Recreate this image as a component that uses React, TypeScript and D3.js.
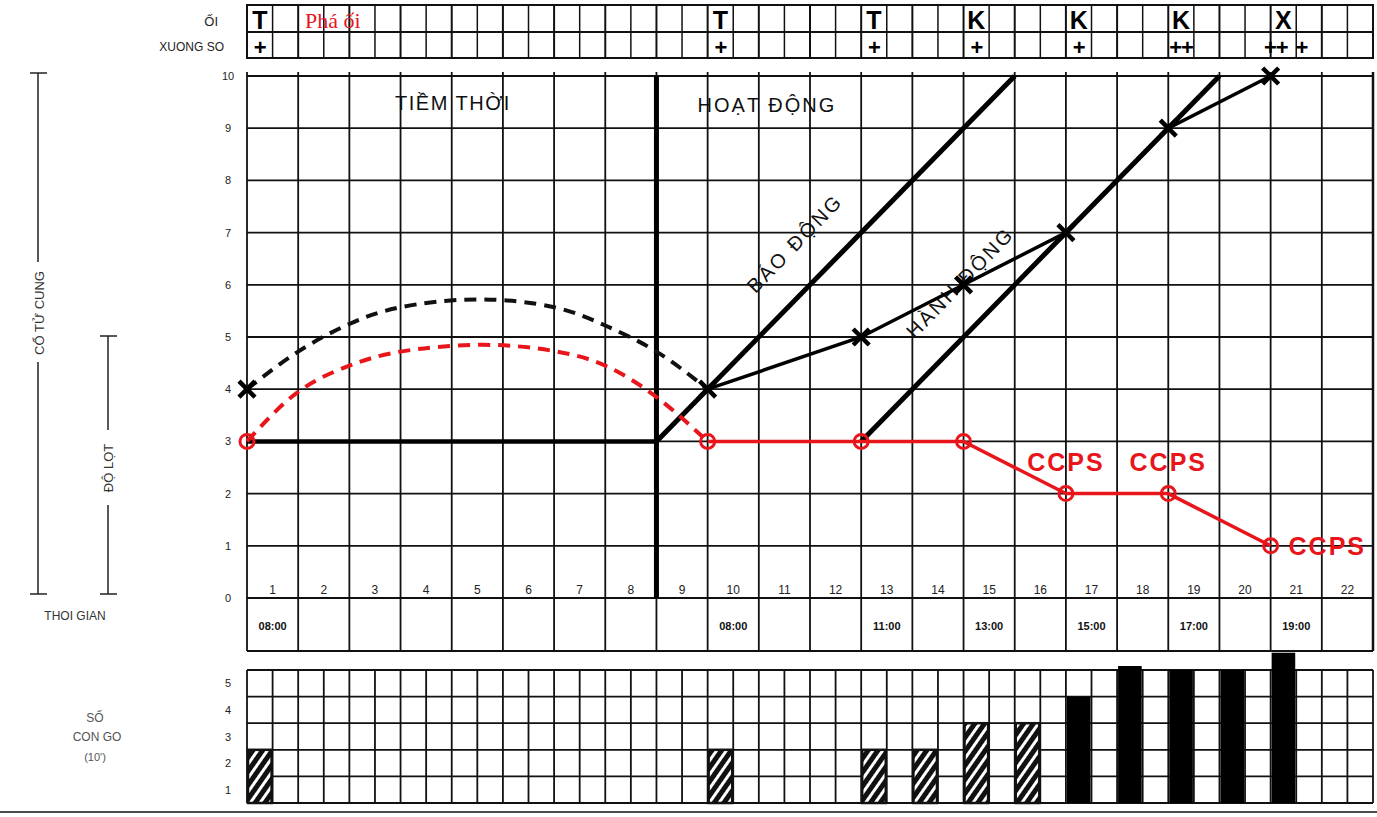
import React from 'react';
import * as d3 from 'd3';

// hour columns and the clock labels under them
const hourCols = d3.range(1, 23);
const clockCols = [1, 10, 13, 15, 17, 19, 21];
const clockLabels = ['08:00', '08:00', '11:00', '13:00', '15:00', '17:00', '19:00'];
const dilationTicks = d3.range(0, 11);
const contractionTicks = [1, 2, 3, 4, 5];

// membranes / moulding (half-hour cells)
const membraneCells = [0, 18, 24, 28, 32, 36, 40];
const membraneMarks = ['T', 'T', 'T', 'K', 'K', 'K', 'X'];
const mouldCells = [0, 18, 24, 28, 32, 36, 39.7, 40.7];
const mouldMarks = ['+', '+', '+', '+', '+', '++', '++', '+'];

// cervical dilation (X) and head descent (O), by hour
const dilationHours = [9, 12, 14, 16, 18, 20];
const dilationValues = [4, 5, 6, 7, 9, 10];
const firstDilation = [0, 4];
const descentHours = [9, 12, 14, 16, 18, 20];
const descentValues = [3, 3, 3, 2, 2, 1];
const firstDescent = [0, 3];

// dashed arcs across the latent phase
const blackArcHours = [0, 1, 2, 3, 4.5, 6, 7, 8, 9];
const blackArcValues = [4, 4.72, 5.25, 5.57, 5.72, 5.57, 5.22, 4.72, 4];
const redArcHours = [0, 1, 2, 3, 4.6, 6, 7, 8, 9];
const redArcValues = [3, 3.95, 4.45, 4.72, 4.85, 4.73, 4.45, 3.85, 3];

// alert / action lines
const alertLine = [[8, 3], [15, 10]];
const actionLine = [[12, 3], [19, 10]];
const latentLine = [[0, 3], [8, 3]];

// contractions per 10' (half-hour cells)
const contractionCells = [0, 18, 24, 26, 28, 30, 32, 34, 36, 38, 40];
const contractionCounts = [2, 2, 2, 2, 3, 3, 4, 5.15, 5, 5, 5.65];
const contractionKind = ['h', 'h', 'h', 'h', 'h', 'h', 's', 's', 's', 's', 's'];

const ccpsHours = [16, 18, 20.35];
const ccpsValues = [2.6, 2.6, 1];

const sans = '"Liberation Sans", Arial, sans-serif';

export default function App() {
  const x = d3.scaleLinear().domain([0, 22]).range([247, 1373]);
  const xc = d3.scaleLinear().domain([0, 44]).range([247, 1373]);
  const y = d3.scaleLinear().domain([0, 10]).range([598, 76]);
  const yc = d3.scaleLinear().domain([0, 5]).range([803, 670]);
  const cw = xc(1) - xc(0);

  const line = d3.line<number[]>().x(d => x(d[0])).y(d => y(d[1]));
  const arc = d3.line<number[]>().x(d => x(d[0])).y(d => y(d[1])).curve(d3.curveNatural);

  const cross = (cx: number, cy: number, s = 8) =>
    `M${cx - s},${cy - s}L${cx + s},${cy + s}M${cx + s},${cy - s}L${cx - s},${cy + s}`;

  return (
    <div style={{ position: 'absolute', left: 0, top: 0 }}>
      <svg width={1377} height={817} style={{ display: 'block', background: '#fff', fontFamily: sans }}>
        <defs>
          <pattern id="hatch" patternUnits="userSpaceOnUse" width={8} height={8} patternTransform="rotate(35)">
            <rect width={8} height={8} fill="#111" />
            <rect x={0} y={0} width={3} height={8} fill="#fff" />
          </pattern>
        </defs>

        {/* header rows */}
        <text x={218} y={26} fontSize={13} textAnchor="end" fill="#222">ỐI</text>
        <text x={224} y={51} fontSize={12} textAnchor="end" fill="#222">XUONG SO</text>
        <g stroke="#111" strokeWidth={2} fill="none">
          <rect x={247} y={5} width={1126} height={53} />
          <line x1={247} x2={1373} y1={32} y2={32} />
          {d3.range(1, 44).map(i => (
            <line key={i} x1={xc(i)} x2={xc(i)} y1={5} y2={58} strokeWidth={i % 2 === 0 ? 2 : 1.5} />
          ))}
        </g>
        {membraneCells.map((c, i) => (
          <text key={'m' + i} x={xc(c) + cw / 2} y={29} fontSize={25} fontWeight="bold" textAnchor="middle" fill="#000">
            {membraneMarks[i]}
          </text>
        ))}
        {mouldCells.map((c, i) => (
          <text key={'s' + i} x={xc(c) + cw / 2} y={55} fontSize={22} fontWeight="bold" textAnchor="middle"
            letterSpacing={-1} fill="#000">
            {mouldMarks[i]}
          </text>
        ))}
        <text x={305} y={28} fontSize={22} fontFamily='"Liberation Serif", "Times New Roman", serif' fill="#e8151b">Phá ối</text>

        {/* left brackets */}
        <g stroke="#222" strokeWidth={1.5}>
          <line x1={38} x2={38} y1={73} y2={262} />
          <line x1={38} x2={38} y1={362} y2={594} />
          <line x1={30} x2={47} y1={73} y2={73} />
          <line x1={30} x2={47} y1={594} y2={594} />
          <line x1={108} x2={108} y1={336} y2={430} />
          <line x1={108} x2={108} y1={505} y2={594} />
          <line x1={100} x2={117} y1={336} y2={336} />
          <line x1={100} x2={117} y1={594} y2={594} />
        </g>
        <text transform="translate(44,313) rotate(-90)" fontSize={13} textAnchor="middle" fill="#333">CỔ TỬ CUNG</text>
        <text transform="translate(113,468) rotate(-90)" fontSize={13} textAnchor="middle" fill="#333">ĐỘ LỌT</text>
        <text x={75} y={620} fontSize={12} textAnchor="middle" fill="#333">THOI GIAN</text>

        {/* main grid */}
        <g stroke="#111" strokeWidth={1.8}>
          {hourCols.map(c => (
            <line key={c} x1={x(c - 1)} x2={x(c - 1)} y1={72} y2={651} />
          ))}
          <line x1={x(22)} x2={x(22)} y1={72} y2={651} strokeWidth={2.5} />
          {dilationTicks.map(v => (
            <line key={v} x1={247} x2={1373} y1={y(v)} y2={y(v)} />
          ))}
          <line x1={247} x2={1373} y1={651} y2={651} strokeWidth={2} />
        </g>
        {dilationTicks.map(v => (
          <text key={v} x={228} y={y(v) + 4} fontSize={11} textAnchor="middle" fill="#222">{v}</text>
        ))}
        {hourCols.map(c => (
          <text key={c} x={x(c - 0.5)} y={594} fontSize={12} textAnchor="middle" fill="#222">{c}</text>
        ))}
        {clockCols.map((c, i) => (
          <text key={c} x={x(c - 0.5)} y={630} fontSize={11} fontWeight="bold" textAnchor="middle" fill="#111">
            {clockLabels[i]}
          </text>
        ))}

        <text x={453} y={110} fontSize={20} letterSpacing={1.5} textAnchor="middle" fill="#111">TIỀM THỜI</text>
        <text x={767} y={112} fontSize={20} letterSpacing={2} textAnchor="middle" fill="#111">HOẠT ĐỘNG</text>

        {/* phase lines */}
        <line x1={x(8)} x2={x(8)} y1={76} y2={598} stroke="#000" strokeWidth={5} />
        <path d={line(latentLine as any) || ''} stroke="#000" strokeWidth={4.5} fill="none" />
        <path d={line(alertLine as any) || ''} stroke="#000" strokeWidth={5} fill="none" />
        <path d={line(actionLine as any) || ''} stroke="#000" strokeWidth={5} fill="none" />
        <text transform={`translate(${x(10.8)},${y(6.7)}) rotate(-46)`} fontSize={20} letterSpacing={2.5} textAnchor="middle" fill="#111">BÁO ĐỘNG</text>
        <text transform={`translate(${x(14.03)},${y(5.95)}) rotate(-46)`} fontSize={20} letterSpacing={2.5} textAnchor="middle" fill="#111">HÀNH ĐỘNG</text>

        {/* dashed arcs */}
        <path d={arc(blackArcHours.map((h, i) => [h, blackArcValues[i]])) || ''} stroke="#111" strokeWidth={4} strokeDasharray="12 8" fill="none" />
        <path d={arc(redArcHours.map((h, i) => [h, redArcValues[i]])) || ''} stroke="#e8151b" strokeWidth={4} strokeDasharray="12 8" fill="none" />

        {/* dilation */}
        <path d={line(dilationHours.map((h, i) => [h, dilationValues[i]])) || ''} stroke="#000" strokeWidth={3.5} fill="none" />
        {[firstDilation, ...dilationHours.map((h, i) => [h, dilationValues[i]])].map((d, i) => (
          <path key={i} d={cross(x(d[0]), y(d[1]))} stroke="#000" strokeWidth={4.5} />
        ))}

        {/* descent */}
        <path d={line(descentHours.map((h, i) => [h, descentValues[i]])) || ''} stroke="#e8151b" strokeWidth={3.5} fill="none" />
        {[firstDescent, ...descentHours.map((h, i) => [h, descentValues[i]])].map((d, i) => (
          <circle key={i} cx={x(d[0])} cy={y(d[1])} r={7} stroke="#e8151b" strokeWidth={3} fill="none" />
        ))}
        {ccpsHours.map((h, i) => (
          <text key={i} x={x(h)} y={y(ccpsValues[i]) + 9} fontSize={25} fontWeight="bold" letterSpacing={2}
            textAnchor={i === 2 ? 'start' : 'middle'} fill="#e8151b">CCPS</text>
        ))}

        {/* contractions */}
        {contractionTicks.map(v => (
          <text key={v} x={228} y={yc(v - 0.5) + 4} fontSize={11} textAnchor="middle" fill="#222">{v}</text>
        ))}
        <text x={95} y={722} fontSize={12} textAnchor="middle" fill="#555">SỐ</text>
        <text x={97} y={741} fontSize={12} textAnchor="middle" fill="#555">CON GO</text>
        <text x={95} y={761} fontSize={11} textAnchor="middle" fill="#555">(10')</text>
        <g stroke="#111" strokeWidth={1.8}>
          {d3.range(0, 45).map(i => (
            <line key={i} x1={xc(i)} x2={xc(i)} y1={670} y2={803} />
          ))}
          {d3.range(0, 6).map(v => (
            <line key={v} x1={247} x2={1373} y1={yc(v)} y2={yc(v)} />
          ))}
        </g>
        {contractionCells.map((c, i) => (
          <rect key={i} x={xc(c) + 1} y={yc(contractionCounts[i])} width={cw - 2}
            height={yc(0) - yc(contractionCounts[i])}
            fill={contractionKind[i] === 'h' ? 'url(#hatch)' : '#000'}
            stroke="#111" strokeWidth={contractionKind[i] === 'h' ? 2.5 : 0} />
        ))}
        <line x1={0} x2={1377} y1={812} y2={812} stroke="#111" strokeWidth={1.5} />
      </svg>
    </div>
  );
}
